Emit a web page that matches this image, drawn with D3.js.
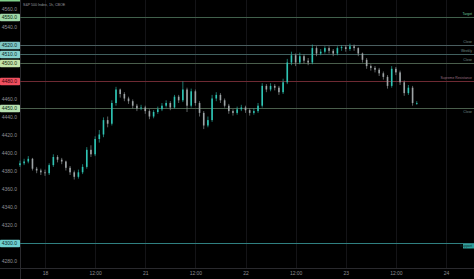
<!DOCTYPE html>
<html><head><meta charset="utf-8">
<script src="https://cdn.jsdelivr.net/npm/d3@7"></script>
<style>html,body{margin:0;padding:0;background:#000;}svg{display:block;}</style>
</head><body>
<script>
// hourly candles, hour index relative to "18" 00:00 (trading-day continuous)
const startHour = -6;
const closes = [4388,4390,4393,4382,4380,4378,4377,4386,4395,4392,4390,4383,4378,4373,4378,4384,
4403,4398,4415,4420,4436,4432,4455,4470,4465,4460,4457,4452,4449,4450,4446,4440,
4445,4448,4452,4455,4450,4462,4458,4470,4452,4468,4455,4444,4430,4436,4460,4464,
4458,4452,4446,4444,4448,4450,4447,4444,4446,4452,4474,4470,4474,4472,4467,4478,
4500,4508,4500,4507,4502,4500,4516,4510,4512,4516,4513,4510,4516,4517,4515,4518,
4516,4510,4503,4496,4494,4492,4488,4484,4474,4493,4489,4478,4466,4472,4455,4455];
const highs = [4391,4393,4396,4394,4384,4382,4381,4388,4398,4397,4394,4391,4385,4380,4381,4387,
4406,4408,4418,4425,4439,4440,4458,4473,4471,4467,4462,4459,4454,4453,4452,4448,
4447,4451,4455,4458,4457,4464,4464,4479,4472,4471,4470,4457,4446,4440,4464,4467,
4466,4460,4454,4448,4451,4453,4452,4449,4449,4455,4477,4476,4477,4476,4474,4482,
4504,4512,4510,4511,4509,4505,4520,4518,4515,4518,4518,4515,4518,4519,4519,4521,
4520,4517,4511,4505,4498,4496,4494,4490,4486,4496,4495,4491,4480,4475,4474,4457];
const lows = [4384,4386,4388,4380,4377,4375,4374,4375,4384,4389,4387,4380,4375,4370,4371,4376,
4382,4395,4396,4411,4417,4428,4430,4452,4461,4457,4454,4449,4446,4447,4443,4437,
4438,4443,4446,4450,4447,4449,4455,4456,4445,4450,4452,4440,4426,4428,4434,4457,
4455,4450,4443,4441,4442,4446,4444,4441,4442,4444,4450,4467,4468,4469,4464,4465,
4476,4497,4496,4498,4499,4497,4498,4507,4508,4510,4510,4507,4508,4513,4512,4513,
4513,4507,4500,4493,4491,4489,4485,4481,4471,4472,4486,4475,4463,4464,4452,4453];
const firstOpen = 4386;

const yTicks = [4560,4540,4460,4440,4420,4400,4380,4360,4340,4320,4280];
const xTickHours = [0,12,24,36,48,60,72,84,96];
const xTickLabels = ["18","12:00","21","12:00","22","12:00","23","12:00","24"];

const levelPrices = [4550,4520,4510,4500,4480,4450,4300];
const levelNames = ["Target","Close","Weekly","Close","Supreme Resistance","Close","Support"];
const levelLine = ["#41604c","#4a5e60","#41605f","#4a5e4c","#6e2a33","#4a5e4c","#2f7f80"];
const levelBox = ["#9fd8a8","#7fc6c4","#86d0cc","#c3e2a9","#f0505f","#b6e0b0","#6ed0d0"];
const levelBoxText = ["#0b2a12","#0b2a2a","#0b2a2a","#1a2a0b","#3a0008","#0b2a12","#0b2a2a"];
const levelLabelColor = ["#6fc89a","#6f8a86","#6f8a86","#6f8a86","#9a7080","#6f8a86","#0b2a2a"];

const W = 474, H = 279;
const svg = d3.select("body").append("svg").attr("width", W).attr("height", H);
svg.append("rect").attr("width", W).attr("height", H).attr("fill", "#000");

const x = d3.scaleLinear().domain([0, 96]).range([45, 446]);
const y = d3.scaleLinear().domain([4280, 4560]).range([260.5, 8.5]);
const plotLeft = 20, plotBottom = 268;

const candles = closes.map((c, i) => ({
  h: startHour + i,
  o: i === 0 ? firstOpen : closes[i - 1],
  c: c, hi: highs[i], lo: lows[i]
}));

// vertical grid
svg.append("g").selectAll("line").data(xTickHours).join("line")
  .attr("x1", d => Math.round(x(d)) + 0.5).attr("x2", d => Math.round(x(d)) + 0.5)
  .attr("y1", 0).attr("y2", plotBottom)
  .attr("stroke", "#141417").attr("stroke-width", 1);

// axes frame
svg.append("line").attr("x1", plotLeft + 0.5).attr("x2", plotLeft + 0.5).attr("y1", 0).attr("y2", H)
  .attr("stroke", "#2a2a2e");
svg.append("line").attr("x1", 0).attr("x2", W).attr("y1", plotBottom + 0.5).attr("y2", plotBottom + 0.5)
  .attr("stroke", "#2a2a2e");

// y axis labels
const yAxis = d3.axisLeft(y).tickValues(yTicks).tickFormat(d3.format(".1f")).tickSize(0).tickPadding(3);
const ya = svg.append("g").attr("transform", `translate(${plotLeft},0)`).call(yAxis);
ya.select(".domain").remove();
ya.selectAll("text").attr("fill", "#8e8e94").attr("font-family", "Liberation Sans, Arial, sans-serif")
  .attr("font-size", 5);

// x axis labels
const xAxis = d3.axisBottom(x).tickValues(xTickHours).tickFormat((d, i) => xTickLabels[i]).tickSize(0).tickPadding(3);
const xa = svg.append("g").attr("transform", `translate(0,${plotBottom})`).call(xAxis);
xa.select(".domain").remove();
xa.selectAll("text").attr("fill", "#8e8e94").attr("font-family", "Liberation Sans, Arial, sans-serif")
  .attr("font-size", 5);

// horizontal level lines
const lv = svg.append("g");
levelPrices.forEach((p, i) => {
  const yy = Math.round(y(p)) + 0.5;
  lv.append("line").attr("x1", plotLeft).attr("x2", W).attr("y1", yy).attr("y2", yy)
    .attr("stroke", levelLine[i]).attr("stroke-width", 1);
  lv.append("rect").attr("x", 0).attr("y", yy - 3.8).attr("width", plotLeft).attr("height", 7.6)
    .attr("fill", levelBox[i]).attr("rx", 0.8);
  lv.append("text").attr("x", plotLeft - 3).attr("y", yy).attr("dy", "0.35em")
    .attr("text-anchor", "end").attr("fill", levelBoxText[i])
    .attr("font-family", "Liberation Sans, Arial, sans-serif").attr("font-size", 5)
    .text(d3.format(".1f")(p));
  if (p === 4300) {
    lv.append("rect").attr("x", 463).attr("y", yy + 0.5).attr("width", 11).attr("height", 4.5)
      .attr("fill", "#2f9e9a");
    lv.append("text").attr("x", 472).attr("y", yy + 3.8).attr("text-anchor", "end")
      .attr("fill", "#0b2a2a").attr("font-family", "Liberation Sans, Arial, sans-serif").attr("font-size", 3.4)
      .text(levelNames[i]);
  } else {
    const below = p === 4450;
    lv.append("text").attr("x", 472).attr("y", below ? yy + 4.6 : yy - 2.2).attr("text-anchor", "end")
      .attr("fill", levelLabelColor[i]).attr("font-family", "Liberation Sans, Arial, sans-serif")
      .attr("font-size", 3.4).text(levelNames[i]);
  }
});

// candles
const upCol = "#2fc4b4", dnCol = "#9ea4a6";
const cg = svg.append("g");
const cw = 1.6;
cg.selectAll("line.wick").data(candles).join("line").attr("class", "wick")
  .attr("x1", d => x(d.h)).attr("x2", d => x(d.h))
  .attr("y1", d => y(d.hi)).attr("y2", d => y(d.lo))
  .attr("stroke", d => d.c >= d.o ? upCol : dnCol).attr("stroke-width", 0.6);
cg.selectAll("rect.body").data(candles).join("rect").attr("class", "body")
  .attr("x", d => x(d.h) - cw / 2).attr("width", cw)
  .attr("y", d => y(Math.max(d.o, d.c)))
  .attr("height", d => Math.max(0.8, Math.abs(y(d.o) - y(d.c))))
  .attr("fill", d => d.c >= d.o ? upCol : dnCol);

// header
svg.append("text").attr("x", 23).attr("y", 5.5).attr("fill", "#9a9aa0")
  .attr("font-family", "Liberation Sans, Arial, sans-serif").attr("font-size", 3.6)
  .text("S&P 500 Index, 1h, CBOE");
svg.append("rect").attr("x", 0).attr("y", 0).attr("width", plotLeft).attr("height", 1.5).attr("fill", "#7fd08a");
</script>
</body></html>
